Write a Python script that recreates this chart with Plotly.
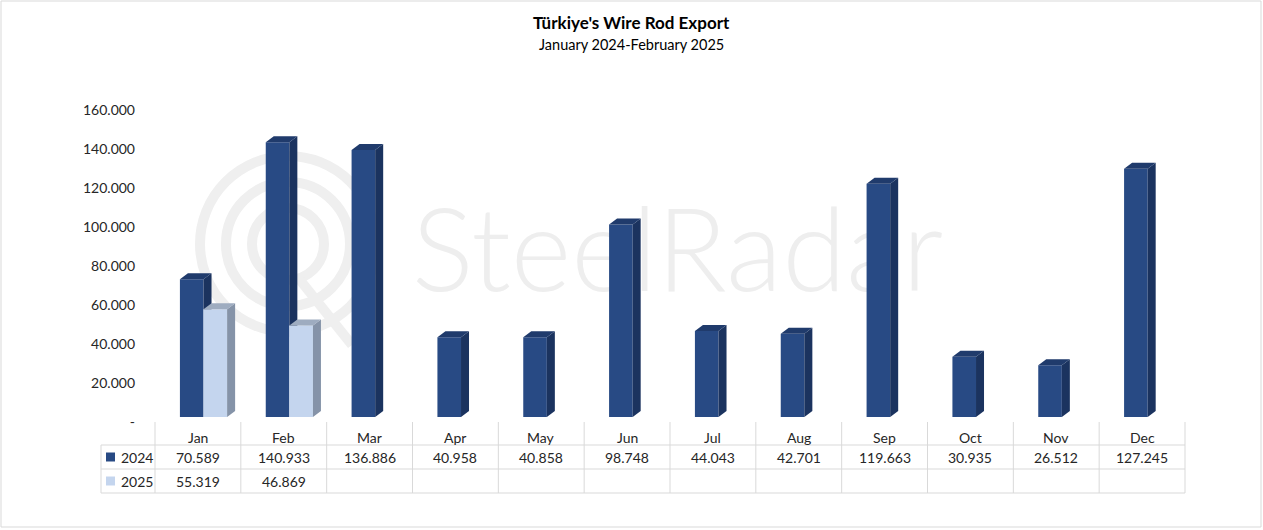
import plotly.graph_objects as go

# ---------------- data ----------------
months = ["Jan", "Feb", "Mar", "Apr", "May", "Jun", "Jul", "Aug", "Sep", "Oct", "Nov", "Dec"]
series_names = ["2024", "2025"]
v2024 = [70589, 140933, 136886, 40958, 40858, 98748, 44043, 42701, 119663, 30935, 26512, 127245]
v2025 = [55319, 46869, None, None, None, None, None, None, None, None, None, None]
y_ticks = [0, 20000, 40000, 60000, 80000, 100000, 120000, 140000, 160000]
title_text = "Türkiye's Wire Rod Export"
subtitle_text = "January 2024-February 2025"
watermark = "SteelRadar"

# ---------------- layout geometry (pixels) ----------------
W, H = 1263, 530
PL, PR, PT, PB = 155, 1185, 105, 417
YMAX = 160000
FONT = "Lato, Noto Sans, sans-serif"
TXT = "#262626"

def px2x(px):
    return (px - PL) / (PR - PL)

def py2y(py):
    return (PB - py) / (PB - PT)

n = len(months)
xu = (PR - PL) / n                 # px per category
yu = YMAX / (PB - PT)              # data units per px
bar_w = 23.6 / xu
off24 = -18 / xu
off25 = off24 + bar_w
dxu = 8 / xu
dyu = 6 * yu

C24 = dict(front="#284a84", side="#1b335f", top="#203b6c")
C25 = dict(front="#c4d5ee", side="#8593a8", top="#9eacc0")

def fmt(v):
    return "" if v is None else f"{v:,}".replace(",", ".")

fig = go.Figure()

# watermark on hidden base axes (pixel coordinates), drawn below the data subplot
fig.add_trace(go.Scatter(
    x=[(425 + 930) / 2], y=[262], mode="text", text=[watermark],
    textfont=dict(family="Lato, sans-serif", size=116, color="#eeeeee", weight=300),
    hoverinfo="skip", showlegend=False, xaxis="x", yaxis="y"))

idx = list(range(n))

# front faces (bars)
fig.add_trace(go.Bar(x=idx, y=v2024, width=bar_w, offset=off24, marker=dict(color=C24["front"], line=dict(width=0)),
                     name=series_names[0], xaxis="x2", yaxis="y2", showlegend=False))
fig.add_trace(go.Bar(x=idx, y=v2025, width=bar_w, offset=off25, marker=dict(color=C25["front"], line=dict(width=0)),
                     name=series_names[1], xaxis="x2", yaxis="y2", showlegend=False))

def faces(vals, off, clip_vals=None):
    sx, sy, tx, ty = [], [], [], []
    for i, v in enumerate(vals):
        if v is None:
            continue
        x0 = i + off
        x1 = x0 + bar_w
        lo = 0
        lo_r = dyu
        if clip_vals is not None and clip_vals[i] is not None:
            lo = clip_vals[i]
            lo_r = clip_vals[i]
        sx += [x1, x1 + dxu, x1 + dxu, x1, x1, None]
        sy += [lo, lo_r, v + dyu, v, lo, None]
        tx += [x0, x1, x1 + dxu, x0 + dxu, x0, None]
        ty += [v, v, v + dyu, v + dyu, v, None]
    return sx, sy, tx, ty

for vals, off, col, clip in [(v2024, off24, C24, v2025), (v2025, off25, C25, None)]:
    sx, sy, tx, ty = faces(vals, off, clip)
    fig.add_trace(go.Scatter(x=sx, y=sy, mode="lines", fill="toself", fillcolor=col["side"],
                             line=dict(width=0, color=col["side"]), hoverinfo="skip", showlegend=False,
                             xaxis="x2", yaxis="y2"))
    fig.add_trace(go.Scatter(x=tx, y=ty, mode="lines", fill="toself", fillcolor=col["top"],
                             line=dict(width=0, color=col["top"]), hoverinfo="skip", showlegend=False,
                             xaxis="x2", yaxis="y2"))

shapes = []
# logo rings (watermark)
for r in [88, 62, 36]:
    shapes.append(dict(type="circle", xref="x", yref="y", x0=288 - r, x1=288 + r, y0=244 - r, y1=244 + r,
                       line=dict(color="#efefef", width=10), layer="below"))
shapes.append(dict(type="line", xref="x", yref="y", x0=300, y0=280, x1=352, y1=345,
                   line=dict(color="#efefef", width=10), layer="below"))

# table grid
GRID = "#d9d9d9"
for py in [445, 469, 493]:
    shapes.append(dict(type="line", xref="paper", yref="paper", x0=px2x(101), x1=px2x(PR), y0=py2y(py), y1=py2y(py),
                       line=dict(color=GRID, width=1)))
for k in range(n + 1):
    px = PL + k * xu
    shapes.append(dict(type="line", xref="paper", yref="paper", x0=px2x(px), x1=px2x(px), y0=py2y(422), y1=py2y(493),
                       line=dict(color=GRID, width=1)))
shapes.append(dict(type="line", xref="paper", yref="paper", x0=px2x(101), x1=px2x(101), y0=py2y(445), y1=py2y(493),
                   line=dict(color=GRID, width=1)))
# legend keys
for py, col in [(457, C24["front"]), (481, C25["front"])]:
    shapes.append(dict(type="rect", xref="paper", yref="paper", x0=px2x(106), x1=px2x(115),
                       y0=py2y(py + 4.5), y1=py2y(py - 4.5), fillcolor=col, line=dict(width=0)))
# chart border
shapes.append(dict(type="rect", xref="paper", yref="paper", x0=px2x(1), x1=px2x(W - 2), y0=py2y(1), y1=py2y(H - 3),
                   line=dict(color="#d9d9d9", width=1), layer="below"))

ann = []
ann.append(dict(text=f"<b>{title_text}</b>", xref="paper", yref="paper", x=px2x(631), y=py2y(22),
                showarrow=False, font=dict(family=FONT, size=17, color="#000000"), xanchor="center", yanchor="middle"))
ann.append(dict(text=subtitle_text, xref="paper", yref="paper", x=px2x(631), y=py2y(44),
                showarrow=False, font=dict(family=FONT, size=14.5, color="#000000"), xanchor="center", yanchor="middle"))
for i, m in enumerate(months):
    ann.append(dict(text=m, xref="x2", yref="paper", x=i, y=py2y(437), showarrow=False,
                    font=dict(family=FONT, size=14, color=TXT), xanchor="center", yanchor="middle"))
    ann.append(dict(text=fmt(v2024[i]), xref="x2", yref="paper", x=i, y=py2y(457), showarrow=False,
                    font=dict(family=FONT, size=14, color=TXT), xanchor="center", yanchor="middle"))
    if v2025[i] is not None:
        ann.append(dict(text=fmt(v2025[i]), xref="x2", yref="paper", x=i, y=py2y(481), showarrow=False,
                        font=dict(family=FONT, size=14, color=TXT), xanchor="center", yanchor="middle"))
for name, py in zip(series_names, [457, 481]):
    ann.append(dict(text=name, xref="paper", yref="paper", x=px2x(119), y=py2y(py), showarrow=False,
                    font=dict(family=FONT, size=14, color=TXT), xanchor="left", yanchor="middle"))

fig.update_layout(
    width=W, height=H,
    margin=dict(l=PL, r=W - PR, t=PT, b=H - PB, pad=0),
    paper_bgcolor="white", plot_bgcolor="rgba(0,0,0,0)",
    barmode="overlay", showlegend=False,
    separators=",.",
    font=dict(family=FONT, size=14, color=TXT),
    shapes=shapes, annotations=ann,
    xaxis=dict(range=[PL, PR], visible=False, fixedrange=True),
    yaxis=dict(range=[PB, PT], visible=False, fixedrange=True),
    xaxis2=dict(overlaying="x", range=[-0.5, n - 0.5], showticklabels=False, showgrid=False,
                zeroline=False, showline=False, ticks=""),
    yaxis2=dict(overlaying="y", range=[0, YMAX], tickvals=y_ticks,
                ticktext=["-" if t == 0 else f"{t:,}".replace(",", ".") for t in y_ticks],
                showgrid=False, zeroline=False, showline=False, ticks="",
                ticklabelstandoff=19, ticklabelshift=5,
                tickfont=dict(family=FONT, size=14, color=TXT)),
)

fig.write_html("out.html", config={"displayModeBar": False},
               post_script="document.body.style.margin='0px';document.body.style.overflow='hidden';")
